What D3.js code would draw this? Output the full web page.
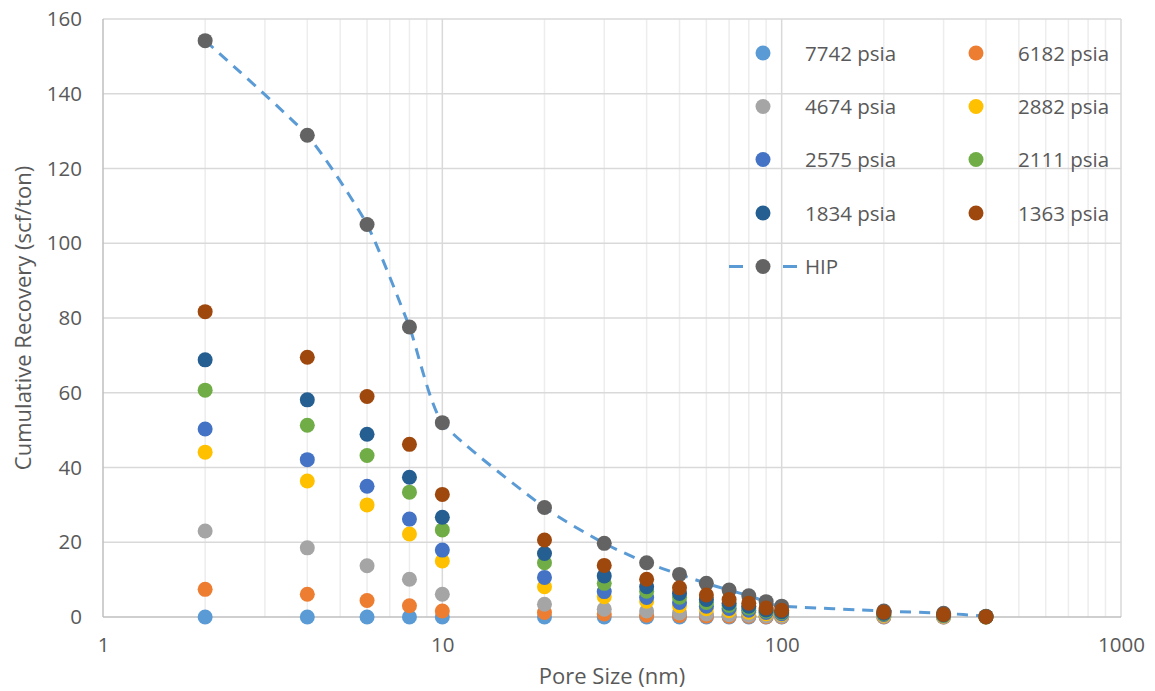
<!DOCTYPE html>
<html>
<head>
<meta charset="utf-8">
<script src="https://cdn.jsdelivr.net/npm/d3@7"></script>
<style>
  body { margin: 0; background: #fff; }
  text { font-family: "Open Sans", "Noto Sans", sans-serif; fill: #595959; }
</style>
</head>
<body>
<script>
// pore sizes (nm) on the log x axis
var poreSize = [2, 4, 6, 8, 10, 20, 30, 40, 50, 60, 70, 80, 90, 100, 200, 300, 400];

// cumulative recovery (scf/ton) per pressure
var p7742 = [0, 0, 0, 0, 0, 0, 0, 0, 0, 0, 0, 0, 0, 0, 0, 0, 0];
var p6182 = [7.4, 6.1, 4.4, 3.0, 1.6, 1.2, 0.8, 0.5, 0.4, 0.3, 0.2, 0.2, 0.1, 0.1, 0.1, 0.0, 0.0];
var p4674 = [23.0, 18.5, 13.7, 10.1, 6.1, 3.4, 2.1, 1.6, 1.1, 0.8, 0.6, 0.5, 0.3, 0.2, 0.2, 0.1, 0.0];
var p2882 = [44.1, 36.4, 30.0, 22.2, 15.0, 8.1, 5.4, 4.2, 3.0, 2.2, 1.7, 1.3, 0.9, 0.7, 0.5, 0.3, 0.0];
var p2575 = [50.3, 42.1, 35.0, 26.2, 17.9, 10.6, 6.8, 5.2, 3.9, 2.9, 2.3, 1.8, 1.2, 0.9, 0.7, 0.4, 0.1];
var p2111 = [60.7, 51.3, 43.2, 33.4, 23.3, 14.5, 9.0, 6.9, 5.3, 3.9, 3.1, 2.4, 1.6, 1.2, 0.9, 0.5, 0.1];
var p1834 = [68.8, 58.1, 48.9, 37.4, 26.7, 17.0, 11.0, 8.1, 6.3, 4.7, 3.7, 2.9, 1.9, 1.4, 1.0, 0.6, 0.1];
var p1363 = [81.7, 69.5, 59.0, 46.2, 32.8, 20.6, 13.8, 10.1, 7.8, 5.9, 4.7, 3.7, 2.4, 1.8, 1.3, 0.7, 0.1];
var hip   = [154.2, 128.9, 105.0, 77.6, 52.0, 29.3, 19.7, 14.5, 11.4, 9.0, 7.2, 5.7, 4.1, 2.9, 1.6, 1.0, 0.2];

var seriesNames = ['7742 psia', '6182 psia', '4674 psia', '2882 psia', '2575 psia', '2111 psia', '1834 psia', '1363 psia'];
var seriesValues = [p7742, p6182, p4674, p2882, p2575, p2111, p1834, p1363];
var xTicks = [1, 10, 100, 1000];
var yTicks = [0, 20, 40, 60, 80, 100, 120, 140, 160];

var colors = ['#5B9BD5', '#ED7D31', '#A5A5A5', '#FFC000', '#4472C4', '#70AD47', '#255E91', '#9E480E'];
var hipColor = '#636363';

var width = 1155, height = 691;
var margin = {left: 103, right: 34, top: 19, bottom: 74};

var svg = d3.select('body').append('svg')
    .attr('width', width)
    .attr('height', height);

var x = d3.scaleLog()
    .domain([1, 1000])
    .range([margin.left, width - margin.right]);
var y = d3.scaleLinear()
    .domain([0, 160])
    .range([height - margin.bottom, margin.top]);

// minor vertical gridlines
var minor = [];
[1, 10, 100].forEach(function(d) {
  for (var k = 2; k <= 9; k++) minor.push(d * k);
});
svg.append('g').selectAll('line').data(minor).enter().append('line')
    .attr('x1', function(d) { return x(d); })
    .attr('x2', function(d) { return x(d); })
    .attr('y1', y(0)).attr('y2', y(160))
    .attr('stroke', '#EDEDED').attr('stroke-width', 1.5);

// major vertical gridlines
svg.append('g').selectAll('line').data([10, 100, 1000]).enter().append('line')
    .attr('x1', function(d) { return x(d); })
    .attr('x2', function(d) { return x(d); })
    .attr('y1', y(0)).attr('y2', y(160))
    .attr('stroke', '#D9D9D9').attr('stroke-width', 1.5);

// horizontal gridlines
svg.append('g').selectAll('line').data(yTicks.slice(1)).enter().append('line')
    .attr('x1', x(1)).attr('x2', x(1000))
    .attr('y1', function(d) { return y(d); })
    .attr('y2', function(d) { return y(d); })
    .attr('stroke', '#D9D9D9').attr('stroke-width', 1.5);

// axis lines
svg.append('line')
    .attr('x1', x(1)).attr('x2', x(1000))
    .attr('y1', y(0)).attr('y2', y(0))
    .attr('stroke', '#BFBFBF').attr('stroke-width', 1.5);
svg.append('line')
    .attr('x1', x(1)).attr('x2', x(1))
    .attr('y1', y(0)).attr('y2', y(160))
    .attr('stroke', '#BFBFBF').attr('stroke-width', 1.5);

// tick labels through d3 axes
var xAxis = svg.append('g')
    .attr('transform', 'translate(0,' + y(0) + ')')
    .call(d3.axisBottom(x).tickValues(xTicks).tickFormat(d3.format('d')).tickSize(0).tickPadding(20));
var yAxis = svg.append('g')
    .attr('transform', 'translate(' + x(1) + ',0)')
    .call(d3.axisLeft(y).tickValues(yTicks).tickSize(0).tickPadding(21));
[xAxis, yAxis].forEach(function(a) {
  a.select('.domain').remove();
  a.selectAll('text')
    .attr('font-size', '20.5px')
    .attr('font-family', '"Open Sans", sans-serif')
    .attr('fill', '#595959');
});

// axis titles
svg.append('text')
    .attr('x', (x(1) + x(1000)) / 2)
    .attr('y', 684)
    .attr('text-anchor', 'middle')
    .attr('font-size', '22px')
    .text('Pore Size (nm)');
svg.append('text')
    .attr('transform', 'translate(31,' + (y(0) + y(160)) / 2 + ') rotate(-90)')
    .attr('text-anchor', 'middle')
    .attr('font-size', '22px')
    .text('Cumulative Recovery (scf/ton)');

// HIP dashed curve
var hipPoints = poreSize.map(function(d, i) { return [d, hip[i]]; });
var line = d3.line()
    .x(function(d) { return x(d[0]); })
    .y(function(d) { return y(d[1]); })
    .curve(d3.curveCardinal.tension(0.45));
svg.append('path')
    .datum(hipPoints)
    .attr('d', line)
    .attr('fill', 'none')
    .attr('stroke', '#5B9BD5')
    .attr('stroke-width', 3)
    .attr('stroke-dasharray', '11,8');

svg.append('g').selectAll('circle').data(hipPoints).enter().append('circle')
    .attr('cx', function(d) { return x(d[0]); })
    .attr('cy', function(d) { return y(d[1]); })
    .attr('r', 7.5)
    .attr('fill', hipColor);

// pressure series markers
seriesValues.forEach(function(vals, s) {
  svg.append('g').selectAll('circle').data(vals).enter().append('circle')
      .attr('cx', function(d, i) { return x(poreSize[i]); })
      .attr('cy', function(d) { return y(d); })
      .attr('r', 7.5)
      .attr('fill', colors[s]);
});

// legend
var legend = svg.append('g');
var rowY = [53, 106.5, 159.5, 213, 266.5];
var colX = [763, 976];
seriesNames.forEach(function(name, i) {
  var cx = colX[i % 2], cy = rowY[Math.floor(i / 2)];
  legend.append('circle').attr('cx', cx).attr('cy', cy).attr('r', 7.5).attr('fill', colors[i]);
  legend.append('text').attr('x', cx + 42).attr('y', cy + 7.5)
      .attr('font-size', '20.5px').text(name);
});
legend.append('line')
    .attr('x1', 729).attr('x2', 797).attr('y1', rowY[4]).attr('y2', rowY[4])
    .attr('stroke', '#5B9BD5').attr('stroke-width', 3)
    .attr('stroke-dasharray', '14,40');
legend.append('circle').attr('cx', 763).attr('cy', rowY[4]).attr('r', 7.5).attr('fill', hipColor);
legend.append('text').attr('x', 805).attr('y', rowY[4] + 7.5)
    .attr('font-size', '20.5px').text('HIP');
</script>
</body>
</html>
